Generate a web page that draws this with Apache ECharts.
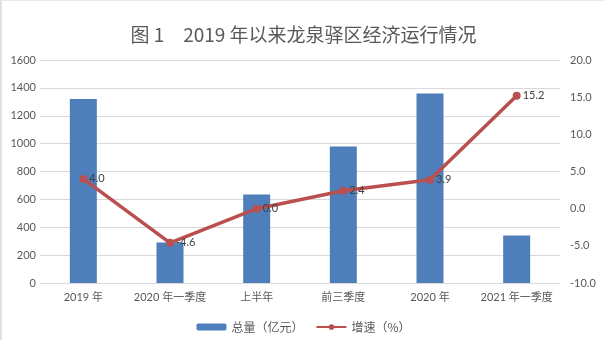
<!DOCTYPE html>
<html>
<head>
<meta charset="utf-8">
<script src="https://cdn.jsdelivr.net/npm/echarts@6/dist/echarts.min.js"></script>
<style>
html,body{margin:0;padding:0;background:#fff;}
#c{width:605px;height:340px;box-sizing:border-box;border-left:2px solid #e0e0e0;border-top:1px solid #e8e8e8;}
</style>
</head>
<body>
<div id="c"></div>
<script>
const categories = ['2019年', '2020年一季度', '上半年', '前三季度', '2020年', '2021年一季度'];
const totalValues = [1320, 290, 635, 980, 1360, 340];
const growthValues = [4.0, -4.6, 0.0, 2.4, 3.9, 15.2];
const titleText = '图 1　2019 年以来龙泉驿区经济运行情况';
const seriesNames = ['总量（亿元）', '增速（%）'];

const FONT = 'Lato, "Noto Sans CJK SC", sans-serif';
const chart = echarts.init(document.getElementById('c'));
chart.setOption({
  animation: false,
  title: {
    text: titleText, left: 'center', top: 19,
    textStyle: {fontSize: 19, fontWeight: 'normal', color: '#595959', fontFamily: '"Noto Sans CJK SC", sans-serif'}
  },
  grid: {left: 38, right: 45, top: 59, bottom: 57},
  legend: {
    data: seriesNames, bottom: 2, left: 'center', itemWidth: 30, itemHeight: 7, itemGap: 12,
    textStyle: {fontSize: 12, color: '#595959', fontFamily: '"Noto Sans CJK SC", sans-serif'}
  },
  xAxis: {
    type: 'category', data: categories,
    axisTick: {show: false},
    axisLine: {lineStyle: {color: '#d9d9d9'}},
    axisLabel: {interval: 0, fontSize: 11, color: '#595959', fontFamily: FONT, margin: 9,
      formatter: v => v.replace(/^(\d{4})年/, '$1 年')}
  },
  yAxis: [
    {type: 'value', min: 0, max: 1600, interval: 200,
      axisLine: {show: false}, axisTick: {show: false},
      splitLine: {lineStyle: {color: '#d9d9d9'}},
      axisLabel: {fontSize: 11, color: '#595959', fontFamily: FONT, margin: 4, formatter: v => String(v)}},
    {type: 'value', min: -10, max: 20, interval: 5,
      axisLine: {show: false}, axisTick: {show: false}, splitLine: {show: false},
      axisLabel: {fontSize: 11, color: '#595959', fontFamily: FONT, margin: 10, formatter: v => v.toFixed(1)}}
  ],
  series: [
    {name: seriesNames[0], type: 'bar', data: totalValues, barWidth: 27,
      itemStyle: {color: '#4f7fba'}},
    {name: seriesNames[1], type: 'line', yAxisIndex: 1, data: growthValues,
      symbol: 'circle', symbolSize: 8,
      lineStyle: {color: '#b9504f', width: 3.5},
      itemStyle: {color: '#b9504f'},
      label: {show: true, position: 'right', distance: 2, fontSize: 11, color: '#404040', fontFamily: FONT,
        formatter: p => p.value.toFixed(1)}}
  ]
});
</script>
</body>
</html>
